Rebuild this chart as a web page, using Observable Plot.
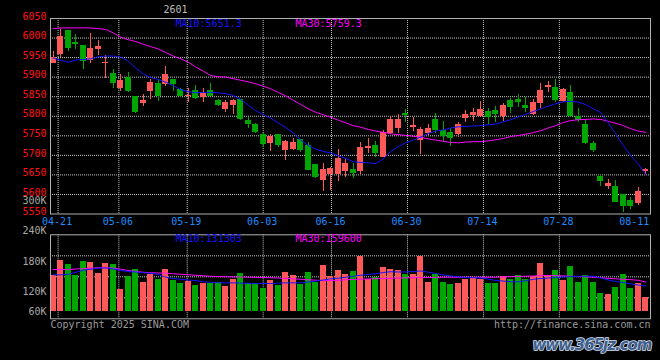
<!DOCTYPE html>
<html><head><meta charset="utf-8">
<script src="https://cdn.jsdelivr.net/npm/d3@7"></script>
<script src="https://cdn.jsdelivr.net/npm/@observablehq/plot@0.6"></script>
<style>
html,body{margin:0;padding:0;background:#000;}
#chart{position:relative;width:660px;height:360px;background:#000;overflow:hidden;}
#chart svg{position:absolute;left:0;top:0;}
</style></head><body><div id="chart"></div>
<script>
// ---------------- data ----------------
const symbol = "2601";
const dates = ["04-18","04-21","04-22","04-23","04-24","04-25","04-28","04-29","04-30",
  "05-06","05-07","05-08","05-09","05-12","05-13","05-14","05-15","05-16",
  "05-19","05-20","05-21","05-22","05-23","05-26","05-27","05-28","05-29","05-30",
  "06-03","06-04","06-05","06-06","06-09","06-10","06-11","06-12","06-13",
  "06-16","06-17","06-18","06-19","06-20","06-23","06-24","06-25","06-26","06-27","06-30",
  "07-01","07-02","07-03","07-04","07-07","07-08","07-09","07-10","07-11",
  "07-14","07-15","07-16","07-17","07-18","07-21","07-22","07-23","07-24","07-25",
  "07-28","07-29","07-30","07-31","08-01","08-04","08-05","08-06","08-07","08-08",
  "08-11","08-12","08-13"];
const open  = [5935,5958,6019,5989,5981,5942,5970,5934,5909,5870,5898,5850,5833,5863,5883,5880,5893,5868,5850,5866,
               5848,5866,5840,5817,5827,5843,5789,5780,5753,5731,5753,5712,5715,5740,5725,5676,5635,5650,5650,5659,
               5663,5658,5718,5725,5695,5757,5769,5808,5772,5738,5757,5791,5763,5759,5753,5795,5802,5799,5812,5814,
               5799,5840,5842,5828,5804,5832,5874,5874,5838,5860,5799,5780,5731,5646,5620,5620,5601,5584,5576,5659];
const high  = [5965,6021,6020,6009,5982,6011,5995,5955,5919,5906,5911,5851,5855,5893,5895,5927,5894,5872,5872,5878,
               5870,5883,5844,5840,5844,5844,5797,5781,5757,5753,5754,5738,5744,5741,5733,5677,5678,5668,5715,5689,
               5678,5733,5742,5735,5763,5800,5804,5817,5797,5772,5779,5808,5786,5768,5783,5814,5819,5838,5820,5826,
               5832,5846,5855,5847,5844,5883,5889,5894,5872,5878,5821,5791,5735,5650,5638,5635,5601,5593,5618,5667];
const low   = [5935,5951,5966,5970,5919,5936,5955,5896,5872,5864,5861,5808,5825,5844,5838,5877,5864,5848,5836,5844,
               5836,5852,5825,5810,5804,5789,5769,5757,5721,5710,5721,5687,5712,5708,5661,5640,5608,5611,5634,5644,
               5641,5650,5705,5695,5695,5754,5757,5785,5761,5702,5752,5757,5733,5723,5746,5785,5786,5797,5778,5785,
               5786,5806,5823,5809,5802,5819,5860,5834,5834,5797,5783,5727,5708,5620,5612,5582,5553,5561,5572,5650];
const close = [5951,6005,5976,5985,5942,5972,5978,5938,5887,5891,5866,5813,5840,5886,5853,5906,5884,5853,5854,5848,
               5857,5853,5830,5834,5840,5795,5782,5761,5731,5749,5727,5736,5733,5715,5665,5646,5663,5666,5692,5680,
               5657,5720,5722,5708,5759,5791,5791,5804,5776,5766,5768,5766,5750,5746,5779,5804,5809,5817,5799,5808,
               5827,5826,5838,5823,5834,5866,5878,5844,5868,5802,5791,5732,5715,5635,5629,5582,5572,5572,5607,5664];
const ma10  = [5949,5943,5938,5944,5945,5947,5952,5954,5954,5951,5941,5923,5908,5899,5894,5887,5878,5868,5863,5860,
               5861,5861,5860,5858,5853,5843,5829,5814,5804,5795,5783,5771,5757,5739,5725,5716,5710,5706,5699,5692,
               5684,5682,5681,5679,5691,5710,5722,5732,5739,5747,5756,5762,5765,5770,5773,5774,5775,5776,5778,5780,
               5786,5791,5798,5805,5812,5819,5826,5832,5837,5838,5836,5830,5819,5809,5783,5755,5725,5699,5678,5651];
const ma30  = [6024,6026,6026,6026,6026,6026,6024,6022,6013,6002,5996,5991,5984,5978,5972,5963,5954,5947,5938,5926,
               5915,5904,5901,5900,5896,5892,5888,5883,5877,5870,5861,5852,5841,5830,5819,5810,5804,5797,5790,5783,
               5776,5772,5766,5762,5759,5755,5753,5751,5749,5746,5742,5739,5736,5733,5732,5734,5735,5735,5737,5740,
               5743,5748,5751,5754,5758,5763,5770,5776,5784,5789,5791,5792,5793,5792,5787,5782,5776,5768,5762,5759];
// volume, thousands of lots
const volume = [152,182,174,153,180,178,156,176,174,124,150,164,138,154,144,164,142,136,140,132,
                136,136,138,130,144,156,136,136,126,142,132,158,152,134,158,138,172,150,162,154,
                160,190,145,148,168,164,162,154,154,190,138,154,138,134,136,144,146,145,136,136,
                150,144,152,144,150,176,152,162,142,170,138,152,138,116,114,128,154,127,137,109];
const volMa10 = [153.3,153.3,154.5,158.5,162.5,164.5,166.5,167,165,162,160,159,157.5,156.6,153.9,148.6,146,144.5,143,142,
                 139.5,138.5,137.5,137.4,137.4,137,136.5,136.1,136.1,136.1,136.8,137.4,137.4,137.4,139,141,143,145.5,146.7,148.6,
                 150.5,152.5,154,155.5,158,159.5,159,159,160,161,158.6,156,153,151,149.5,148,147.5,147,145,142,
                 141,139.5,139.5,141.5,144.5,146,147,148,149,150,150.3,150.6,150.6,147.3,143,140,138,135.4,133,131.3];
const volMa30 = [163.9,163.9,164,165,165.5,166.5,167.5,167.5,166.5,164.5,162,160,158.5,157.5,157,156.6,155.5,154.5,153.5,152.5,
                 151.5,150.5,150,149.5,149.3,149,148.6,148.3,148,147.5,147,146.3,145.3,144.5,143.5,142.7,142.2,142,142.5,143.5,
                 144.2,144.7,145.2,145.6,146,146.4,147,147.3,147.6,147.8,148,148.3,148.6,148.6,148.6,148.6,148.6,148.6,148.6,148.6,
                 149.3,150,150.3,150.6,151,151.8,152,151.6,151.3,150.6,150,149.5,148.6,147.8,146.4,145.5,144.5,143.8,142.5,139];
const dateTicks = ["04-21","05-06","05-19","06-03","06-16","06-30","07-14","07-28","08-11"];
const priceTicks = [6050,6000,5950,5900,5850,5800,5750,5700,5650,5600,5550];
const volTicks = [300,240,180,120,60];
const volTickLabels = ["300K","240K","180K","120K","60K"];
const priceLegend = ["MA10:5651.3","MA30:5759.3"];
const volLegend = ["MA10:131303","MA30:159600"];
const copyright = "Copyright 2025 SINA.COM";
const source = "http://finance.sina.com.cn";
const watermark = "www.365jz.com";

// ---------------- drawing ----------------
const N = dates.length;
const W = 660, H = 360, ML = 50, MR = 10;
const RED = "#ff5858", GREEN = "#00a600", BLUE = "#1414ff", MAG = "#ff00ff";
const GRID = "#c8c8c8", FRAME = "#b0b0b0", DATEC = "#1e8cff";
const FONT = "'DejaVu Sans Mono','Liberation Mono',monospace";
const off = 0.37, half = 0.4;
const VOL_BASE = 80.5;

const rows = dates.map((d, i) => ({
  i, date: d, open: open[i], high: high[i], low: low[i], close: close[i],
  up: close[i] >= open[i], vol: volume[i], ma10: ma10[i], ma30: ma30[i],
  vma10: volMa10[i], vma30: volMa30[i]
}));
const col = d => d.up ? RED : GREEN;
const cx = d => d.i + off;
const tickRows = dateTicks.map(t => ({label: t, g: dates.indexOf(t) * N / (N - 1)}));
const gridRows = tickRows.slice(0, -1);
const baseStyle = {background: "transparent", overflow: "visible", fontFamily: FONT, fontSize: "10px"};

const price = Plot.plot({
  width: W, height: H, marginLeft: ML, marginRight: MR, marginTop: 18, marginBottom: 146.5,
  style: baseStyle,
  x: {domain: [0, N], axis: null},
  y: {domain: [5550, 6050], axis: null},
  color: {type: "identity"},
  marks: [
    Plot.ruleY(priceTicks.slice(1, -1), {stroke: GRID, strokeDasharray: "1,1"}),
    Plot.ruleX(gridRows, {x: "g", stroke: GRID, strokeDasharray: "1,1"}),
    Plot.ruleX(rows, {x: cx, y1: "low", y2: "high", stroke: col, shapeRendering: "crispEdges"}),
    Plot.rect(rows, {x1: d => cx(d) - half, x2: d => cx(d) + half, y1: "open", y2: "close", fill: col, shapeRendering: "crispEdges"}),
    Plot.ruleY(rows, {y: "close", x1: d => cx(d) - half, x2: d => cx(d) + half, stroke: col, shapeRendering: "crispEdges"}),
    Plot.line(rows, {x: cx, y: "ma30", stroke: MAG, strokeWidth: 1}),
    Plot.line(rows, {x: cx, y: "ma10", stroke: BLUE, strokeWidth: 1}),
    Plot.frame({stroke: FRAME}),
    Plot.text(priceTicks, {y: d => d, text: d => String(d), frameAnchor: "left", textAnchor: "end", lineAnchor: "middle", dx: -4, dy: -2, fill: "#ff1010", fontSize: 10}),
    Plot.text(tickRows, {x: "g", text: "label", frameAnchor: "bottom", textAnchor: "middle", lineAnchor: "middle", dx: -1, dy: 7.5, fill: DATEC, fontSize: 10}),
    Plot.text([symbol], {text: d => d, frameAnchor: "top-left", textAnchor: "middle", lineAnchor: "middle", dx: 125, dy: -9, fill: "#bdbdbd", fontSize: 10}),
    Plot.text([priceLegend[0]], {text: d => d, frameAnchor: "top-left", textAnchor: "start", lineAnchor: "middle", dx: 125, dy: 5, fill: BLUE, fontSize: 10}),
    Plot.text([priceLegend[1]], {text: d => d, frameAnchor: "top-left", textAnchor: "start", lineAnchor: "middle", dx: 245, dy: 5, fill: MAG, fontSize: 10})
  ]
});

const vol = Plot.plot({
  width: W, height: H, marginLeft: ML, marginRight: MR, marginTop: 234.3, marginBottom: 41.7,
  style: baseStyle,
  x: {domain: [0, N], axis: null},
  y: {domain: [66.0, 232.9], axis: null},
  color: {type: "identity"},
  marks: [
    Plot.ruleY([1, 2, 3], {y: k => 66.0 + (232.9 - 66.0) * k / 4, stroke: GRID, strokeDasharray: "1,1"}),
    Plot.ruleX(gridRows, {x: "g", stroke: GRID, strokeDasharray: "1,1"}),
    Plot.rect(rows, {x1: d => cx(d) - half, x2: d => cx(d) + half, y1: VOL_BASE, y2: "vol", fill: col, shapeRendering: "crispEdges"}),
    Plot.line(rows, {x: cx, y: "vma30", stroke: MAG, strokeWidth: 1}),
    Plot.line(rows, {x: cx, y: "vma10", stroke: BLUE, strokeWidth: 1}),
    Plot.frame({stroke: FRAME}),
    Plot.text(volTicks, {y: v => Math.max(v, VOL_BASE), text: (v, i) => volTickLabels[i], frameAnchor: "left", textAnchor: "end", lineAnchor: "middle", dx: -4, fill: "#a8a8a8", fontSize: 10}),
    Plot.text([volLegend[0]], {text: d => d, frameAnchor: "top-left", textAnchor: "start", lineAnchor: "middle", dx: 125, dy: 4.2, fill: BLUE, fontSize: 10}),
    Plot.text([volLegend[1]], {text: d => d, frameAnchor: "top-left", textAnchor: "start", lineAnchor: "middle", dx: 245, dy: 4.2, fill: MAG, fontSize: 10}),
    Plot.text([copyright], {text: d => d, frameAnchor: "bottom-left", textAnchor: "start", lineAnchor: "middle", dy: 5.5, fill: "#9a9a9a", fontSize: 10}),
    Plot.text([source], {text: d => d, frameAnchor: "bottom-right", textAnchor: "end", lineAnchor: "middle", dy: 5.5, fill: "#9a9a9a", fontSize: 10}),
    Plot.text([watermark], {text: d => d, frameAnchor: "bottom-right", textAnchor: "end", lineAnchor: "middle", dx: 1, dy: 26, fill: "#3f5f90", stroke: "#dde4ee", strokeWidth: 1.5, paintOrder: "stroke", fontSize: 15, fontWeight: "bold", fontStyle: "italic", fontFamily: "'DejaVu Sans',sans-serif"})
  ]
});

d3.select(vol).selectAll("text").filter(function() { return this.textContent === watermark; })
  .style("letter-spacing", "-1px");

document.getElementById("chart").append(price, vol);
</script>
</body></html>
